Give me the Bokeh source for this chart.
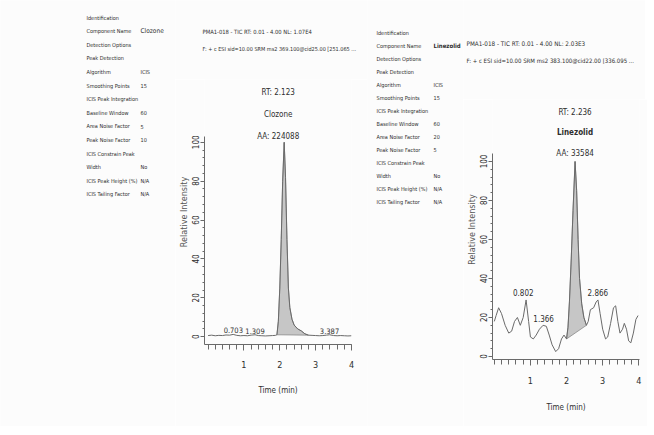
import numpy as np
from bokeh.plotting import figure
from bokeh.models import ColumnDataSource, Range1d, FixedTicker
from bokeh.layouts import row, column
from bokeh.embed import file_html
from bokeh.resources import INLINE
from bokeh.core.properties import value

# ---------------- data ----------------
t1 = [0.00, 0.10, 0.20, 0.30, 0.40, 0.50, 0.60, 0.70, 0.80, 0.90,
      1.00, 1.10, 1.20, 1.31, 1.40, 1.50, 1.60, 1.70, 1.80,
      1.88, 1.92, 1.96, 2.00, 2.04, 2.08, 2.123, 2.16, 2.20, 2.24, 2.28, 2.34, 2.40, 2.50, 2.60, 2.70, 2.80,
      2.90, 3.00, 3.10, 3.20, 3.30, 3.39, 3.50, 3.60, 3.70, 3.80, 3.90, 4.00]
i1 = [0.6, 0.8, 0.5, 0.7, 0.6, 0.9, 0.8, 1.2, 0.7, 0.5,
      0.6, 0.5, 0.8, 1.0, 0.6, 0.5, 0.4, 0.5, 0.6,
      0.7, 1.0, 8, 25, 50, 80, 100, 82, 50, 25, 15, 9, 6, 4, 3, 1.5, 0.8,
      0.7, 0.6, 0.5, 0.6, 0.8, 1.0, 0.6, 0.5, 0.6, 0.5, 0.4, 0.5]
peak1_window = [1.92, 2.80]
small1_rt = [0.703, 1.309, 3.387]
small1_h = [1.2, 1.0, 1.0]
main1_rt = 2.123
main1_h = 100
main1_text = ["RT: 2.123", "Clozone", "AA: 224088"]

t2 = [0.00, 0.05, 0.12, 0.20, 0.30, 0.40, 0.48, 0.56, 0.64, 0.72,
      0.80, 0.88, 0.95, 1.00, 1.08, 1.16, 1.25, 1.35, 1.44, 1.52,
      1.60, 1.70, 1.78, 1.86, 1.93, 2.00, 2.04, 2.08, 2.13, 2.18,
      2.236, 2.28, 2.32, 2.36, 2.42, 2.48, 2.55, 2.60, 2.66, 2.75,
      2.82, 2.87, 2.93, 3.00, 3.08, 3.14, 3.22, 3.30, 3.36, 3.42,
      3.48, 3.55, 3.60, 3.66, 3.72, 3.78, 3.85, 3.92, 3.98]
i2 = [18, 21, 25, 22, 16, 12, 13, 18, 20, 16,
      20, 29, 18, 10, 9, 11, 14, 16, 15.5, 11,
      6, 2.5, 4, 9, 11, 9, 15, 28, 50, 75,
      100, 85, 60, 40, 27, 20, 16, 18, 24, 25,
      28, 29, 22, 14, 9, 10, 17, 25, 26, 18,
      12, 14, 17, 14, 8, 7, 12, 19, 21]
peak2_window = [2.00, 2.55]
small2_rt = [0.802, 1.366, 2.866]
small2_h = [29, 15.5, 29]
main2_rt = 2.236
main2_h = 100
main2_text = ["RT: 2.236", "Linezolid", "AA: 33584"]

x_ticks = [1, 2, 3, 4]
y_ticks = [0, 20, 40, 60, 80, 100]

header1 = ["PMA1-018 - TIC RT: 0.01 - 4.00 NL: 1.07E4",
           "F: + c ESI sid=10.00 SRM ms2 369.100@cid25.00 [251.065 ..."]
header2 = ["PMA1-018 - TIC RT: 0.01 - 4.00 NL: 2.03E3",
           "F: + c ESI sid=10.00 SRM ms2 383.100@cid22.00 [336.095 ..."]

info_labels = ["Identification", "Component Name", "Detection Options", "Peak Detection",
               "Algorithm", "Smoothing Points", "ICIS Peak Integration", "Baseline Window",
               "Area Noise Factor", "Peak Noise Factor", "ICIS Constrain Peak", "Width",
               "ICIS Peak Height (%)", "ICIS Tailing Factor"]
info_values1 = ["", "Clozone", "", "", "ICIS", "15", "", "60", "5", "10", "", "No", "N/A", "N/A"]
info_values2 = ["", "Linezolid", "", "", "ICIS", "15", "", "60", "20", "5", "", "No", "N/A", "N/A"]

# ---------------- style ----------------
FONT = "'DejaVu Sans Condensed', 'Liberation Sans Narrow', 'Liberation Sans', sans-serif"
TXT = "#2e2e2e"
LINE = "#6a6a6a"
BG = "#fcfcfc"
OX, OY = 1, 1   # page origin of the layout


def base_fig(w, h, **kw):
    p = figure(width=w, height=h, output_backend="svg", toolbar_location=None, tools="",
               title_location=None, **kw)
    p.background_fill_color = BG
    p.border_fill_color = BG
    p.outline_line_color = None
    return p


def text_fig(left, top, w, h, items):
    """items: (page_x, page_y, text, size, bold, align)"""
    p = base_fig(w, h, x_range=Range1d(0, w), y_range=Range1d(h, 0),
                 x_axis_type=None, y_axis_type=None, min_border=0)
    p.xgrid.visible = False
    p.ygrid.visible = False
    for (X, Y, s, size, bold, align) in items:
        p.text(x=[X - left], y=[Y - top], text=[s], text_font=value(FONT),
               text_font_size=size, text_color=TXT, text_align=align,
               text_baseline="middle", text_font_style="bold" if bold else "normal")
    return p


def chart_fig(bl, br, bb, fw, fh, xr, yr, ybounds, t, inten, win, srt, sh, s_dy, s_size,
              mrt, mh, mtext, m_dys, m_dx, name_bold, xl_standoff, xa_standoff):
    p = figure(frame_width=fw, frame_height=fh, min_border_left=bl, min_border_right=br,
               min_border_top=0, min_border_bottom=bb,
               x_range=Range1d(*xr), y_range=Range1d(*yr),
               output_backend="svg", toolbar_location=None, tools="", title_location=None)
    p.background_fill_color = BG
    p.border_fill_color = BG
    p.outline_line_color = None
    p.xgrid.visible = False
    p.ygrid.visible = False

    tp = [a for a in t if win[0] <= a <= win[1]]
    ip = [b for a, b in zip(t, inten) if win[0] <= a <= win[1]]
    p.patch(tp, ip, fill_color="#c6c6c6", fill_alpha=1.0, line_color="#8a8a8a", line_width=0.8)
    p.line(t, inten, line_color=LINE, line_width=1.0)

    src = ColumnDataSource(dict(x=srt, y=sh, txt=["%.3f" % v for v in srt]))
    p.text("x", "y", text="txt", source=src, text_font=value(FONT), text_font_size=s_size,
           text_color=TXT, text_align="center", text_baseline="bottom", y_offset=s_dy)

    for k, (s, dy) in enumerate(zip(mtext, m_dys)):
        p.text(x=[mrt], y=[mh], text=[s], text_font=value(FONT), text_font_size="8px",
               text_color=TXT, text_align="center", text_baseline="middle",
               x_offset=m_dx, y_offset=dy,
               text_font_style="bold" if (k == 1 and name_bold) else "normal")

    xa = p.xaxis[0]
    xa.ticker = FixedTicker(ticks=x_ticks, minor_ticks=list(np.round(np.arange(0, 4.01, 0.2), 2)))
    xa.axis_label = "Time (min)"
    xa.axis_label_text_font = FONT
    xa.axis_label_text_font_style = "normal"
    xa.axis_label_text_font_size = "8px"
    xa.axis_label_text_color = TXT
    xa.axis_label_standoff = xa_standoff
    xa.major_label_text_font = FONT
    xa.major_label_text_font_size = "9px"
    xa.major_label_text_color = TXT
    xa.major_label_standoff = xl_standoff
    xa.major_tick_out = 6
    xa.major_tick_in = 0
    xa.minor_tick_out = 5
    xa.minor_tick_in = 0
    xa.axis_line_color = LINE
    xa.major_tick_line_color = LINE
    xa.minor_tick_line_color = LINE

    ya = p.yaxis[0]
    ya.bounds = ybounds
    ya.ticker = FixedTicker(ticks=y_ticks, minor_ticks=list(range(0, 101, 4)))
    ya.axis_label = "Relative Intensity"
    ya.axis_label_text_font = FONT
    ya.axis_label_text_font_style = "normal"
    ya.axis_label_text_font_size = "9px"
    ya.axis_label_text_color = "#555555"
    ya.axis_label_standoff = 1
    ya.major_label_text_font = FONT
    ya.major_label_text_font_size = "8px"
    ya.major_label_text_color = TXT
    ya.major_label_orientation = "vertical"
    ya.major_label_standoff = 1
    ya.major_tick_out = 4
    ya.major_tick_in = 0
    ya.minor_tick_out = 2
    ya.minor_tick_in = 0
    ya.axis_line_color = LINE
    ya.major_tick_line_color = LINE
    ya.minor_tick_line_color = LINE
    return p


def info_items(x_lab, x_val, y0, dy, vals, name_bold, name_size):
    items = []
    for k, (lab, val) in enumerate(zip(info_labels, vals)):
        Y = y0 + k * dy
        items.append((x_lab, Y, lab, "5.5px", False, "left"))
        if val:
            items.append((x_val, Y, val, name_size if k == 1 else "5.5px",
                          bool(k == 1 and name_bold), "left"))
    return items


H = 426
# ---- panel 1 (page x 1..368) ----
info1 = text_fig(OX, OY, 175, H, info_items(87, 141, 18, 13.6, info_values1, False, "6.5px"))
head1 = text_fig(176, OY, 192, 79, [(203, 32, header1[0], "5.8px", False, "left"),
                                    (203, 49, header1[1], "5.5px", False, "left")])
chart1 = chart_fig(bl=29, br=16, bb=82, fw=147, fh=265,
                   xr=(-0.1, 4.0), yr=(-4, -4 + 265 / 1.944), ybounds=(-4, 103),
                   t=t1, inten=i1, win=peak1_window, srt=small1_rt, sh=small1_h, s_dy=-1,
                   s_size="7.5px",
                   mrt=main1_rt, mh=main1_h, mtext=main1_text, m_dys=[-50, -28, -6], m_dx=-6,
                   name_bold=False, xl_standoff=10, xa_standoff=15)

# ---- panel 2 (page x 368..646) ----
info2 = text_fig(368, OY, 96, H, info_items(377, 434, 33, 13.0, info_values2, True, "6px"))
head2 = text_fig(464, OY, 182, 99, [(467, 44, header2[0], "6.3px", False, "left"),
                                    (467, 61, header2[1], "6px", False, "left")])
chart2 = chart_fig(bl=27, br=8, bb=67, fw=147, fh=260,
                   xr=(-0.05, 4.02), yr=(-1.54, -1.54 + 260 / 1.95), ybounds=(-1.54, 104),
                   t=t2, inten=i2, win=peak2_window, srt=small2_rt, sh=small2_h, s_dy=-4,
                   s_size="8px",
                   mrt=main2_rt, mh=main2_h, mtext=main2_text, m_dys=[-49, -29, -8], m_dx=0,
                   name_bold=True, xl_standoff=11, xa_standoff=16)

layout = row(info1, column(row(head1), row(chart1)), info2, column(row(head2), row(chart2)))
open("out.html", "w").write(file_html(layout, INLINE))
